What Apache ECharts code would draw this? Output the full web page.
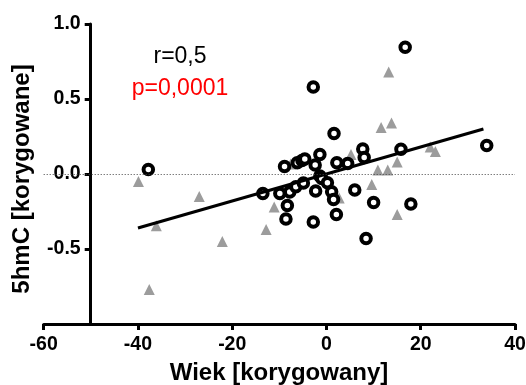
<!DOCTYPE html>
<html>
<head>
<meta charset="utf-8">
<style>
  html, body { margin: 0; padding: 0; background: #fff; }
  #chart { width: 526px; height: 385px; }
</style>
<script src="https://cdn.jsdelivr.net/npm/echarts@6/dist/echarts.min.js"></script>
</head>
<body>
<div id="chart"></div>
<script>
// Group A: open circles (corrected age vs corrected 5hmC)
const circlesX = [-37.8, -13.5, -9.9, -7.8, -8.3, -8.6, -8.9, -6.2, -5.2, -4.6,
  -2.8, -6.5, -4.9, -2.8, 16.7, 1.6, 7.7, 8.0, 15.8, 34.0,
  -1.4, 2.2, 4.5, -2.4, -1.4, -1.0, 0.2, -2.3, 1.1, 1.5,
  6.0, 10.0, 17.9, 2.1, 8.4];
const circlesY = [0.03, -0.13, -0.13, -0.12, -0.21, -0.30, 0.05, 0.075, 0.09, 0.10,
  0.58, -0.085, -0.06, -0.32, 0.845, 0.27, 0.167, 0.11, 0.165, 0.19,
  0.13, 0.075, 0.07, 0.06, -0.013, -0.03, -0.058, -0.113, -0.118, -0.17,
  -0.107, -0.19, -0.20, -0.27, -0.43];

// Group B: grey triangles
const trianglesX = [-39.9, -36.1, -37.6, -27.0, -22.1, -12.8, -11.1, -7.6, 13.2, 11.6,
  13.8, 5.2, 15.0, 10.9, 13.0, 9.6, 22.0, 23.1, 2.7, 15.0];
const trianglesY = [-0.05, -0.345, -0.77, -0.15, -0.45, -0.37, -0.22, 0.067, 0.68, 0.31,
  0.34, 0.13, 0.08, 0.027, 0.027, -0.07, 0.18, 0.15, -0.16, -0.27];

// Linear regression line endpoints
const fitX = [-40, 33.3];
const fitY = [-0.36, 0.30];

// Axis ticks
const xTicks = [-60, -40, -20, 0, 20, 40];
const yTicks = [-1.0, -0.5, 0.0, 0.5, 1.0];

const stats = ['r=0,5', 'p=0,0001'];

const zip = (xs, ys) => xs.map((x, i) => [x, ys[i]]);
const FONT = '"Liberation Sans", Arial, sans-serif';

const chart = echarts.init(document.getElementById('chart'), null, { renderer: 'canvas' });

chart.setOption({
  animation: false,
  backgroundColor: '#ffffff',
  grid: { left: 43.7, right: 11, top: 24, bottom: 61, outerBoundsMode: 'none', containLabel: false },
  xAxis: {
    type: 'value',
    min: xTicks[0],
    max: xTicks[xTicks.length - 1],
    interval: 20,
    axisLine: { onZero: false, lineStyle: { color: '#000', width: 3 } },
    axisTick: { show: true, length: 6, lineStyle: { color: '#000', width: 3 } },
    axisLabel: { color: '#000', fontWeight: 'bold', fontSize: 19.5, fontFamily: FONT, margin: 11 },
    splitLine: { show: false }
  },
  yAxis: {
    type: 'value',
    min: yTicks[0],
    max: yTicks[yTicks.length - 1],
    interval: 0.5,
    position: 'left',
    offset: -47,
    axisLine: { onZero: false, lineStyle: { color: '#000', width: 3 } },
    axisTick: { show: true, length: 6, lineStyle: { color: '#000', width: 3 } },
    axisLabel: {
      color: '#000', fontWeight: 'bold', fontSize: 19.5, fontFamily: FONT, margin: 10,
      formatter: v => (v <= -1 ? '' : v.toFixed(1))
    },
    splitLine: { show: false }
  },
  graphic: [
    {
      type: 'text', x: 22, y: 179, rotation: Math.PI / 2,
      style: { text: '5hmC [korygowane]', fill: '#000', font: 'bold 24px ' + FONT, textAlign: 'center', textVerticalAlign: 'middle' }
    },
    {
      type: 'text', x: 279, y: 373.5,
      style: { text: 'Wiek [korygowany]', fill: '#000', font: 'bold 24px ' + FONT, textAlign: 'center', textVerticalAlign: 'middle' }
    },
    {
      type: 'text', x: 180, y: 57,
      style: { text: stats[0], fill: '#000', font: '23px ' + FONT, textAlign: 'center', textVerticalAlign: 'middle' }
    },
    {
      type: 'text', x: 180, y: 89,
      style: { text: stats[1], fill: '#ff0000', font: '23px ' + FONT, textAlign: 'center', textVerticalAlign: 'middle' }
    }
  ],
  series: [
    {
      name: 'B',
      type: 'scatter',
      symbol: 'triangle',
      symbolSize: 11,
      itemStyle: { color: '#9c9c9c', opacity: 1 },
      data: zip(trianglesX, trianglesY),
      markLine: {
        silent: true,
        symbol: 'none',
        label: { show: false },
        lineStyle: { color: '#444', width: 1, type: [1, 2] },
        data: [{ yAxis: 0 }]
      },
      z: 2
    },
    {
      name: 'A',
      type: 'scatter',
      symbol: 'circle',
      symbolSize: 9.5,
      itemStyle: { color: '#ffffff', borderColor: '#000', borderWidth: 4, opacity: 1 },
      data: zip(circlesX, circlesY),
      z: 3
    },
    {
      name: 'fit',
      type: 'line',
      symbol: 'none',
      lineStyle: { color: '#000', width: 3 },
      data: zip(fitX, fitY),
      z: 4
    }
  ]
});
</script>
</body>
</html>
